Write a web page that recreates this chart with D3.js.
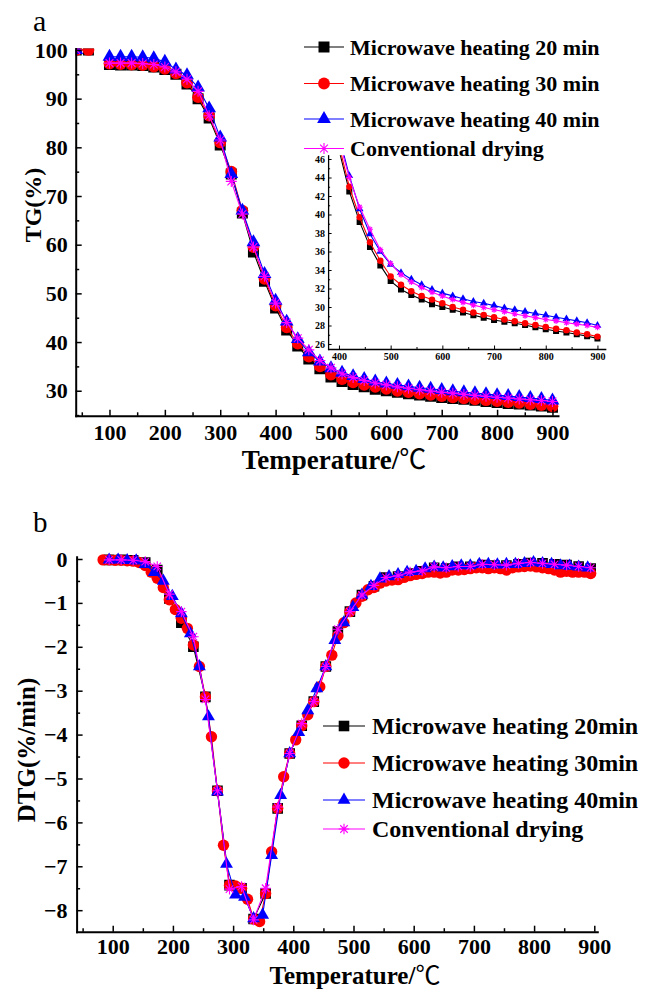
<!DOCTYPE html>
<html>
<head>
<meta charset="utf-8">
<script src="https://cdn.jsdelivr.net/npm/d3@7"></script>
<style>
body { margin: 0; background: #fff; }
</style>
</head>
<body>
<div id="chart"></div>
<script>
// ---- panel a : TG curves (residual mass, %) ----
const tgTemp = [40, 62, 80, 100, 120, 140, 160, 180, 200, 220, 240, 260, 280, 300, 320, 340, 360, 380, 400,
  420, 440, 460, 480, 500, 520, 540, 560, 580, 600, 620, 640, 660, 680, 700, 720, 740, 760, 780, 800,
  820, 840, 860, 880, 900];
const tg20 = [100, 100, null, 97.0, 96.9, 96.9, 96.8, 96.5, 96.0, 95.0, 93.0, 90.0, 86.0, 80.5, 74.5, 66.5, 58.5,
  52.5, 47.0, 42.5, 39.2, 36.5, 34.5, 32.8, 31.9, 31.3, 30.8, 30.3, 30.0, 29.7, 29.4, 29.1, 28.85, 28.6, 28.4,
  28.25, 28.05, 27.8, 27.6, 27.4, 27.25, 27.05, 26.85, 26.6];
const tg30 = [100, 100, null, 97.2, 97.1, 97.0, 96.9, 96.6, 96.1, 95.2, 93.3, 90.3, 86.5, 81.0, 75.0, 67.0, 59.5,
  53.0, 47.5, 43.0, 39.7, 37.0, 35.0, 33.3, 32.4, 31.7, 31.2, 30.8, 30.4, 30.0, 29.7, 29.4, 29.15, 28.9, 28.65,
  28.45, 28.25, 28.05, 27.85, 27.65, 27.5, 27.25, 27.05, 26.8];
const tg40 = [100, null, null, 98.6, 98.6, 98.6, 98.5, 98.3, 97.6, 96.0, 94.8, 92.3, 88.0, 82.0, 74.5, 67.0, 60.5,
  54.0, 48.5, 44.2, 40.6, 37.9, 36.0, 34.6, 33.7, 33.0, 32.4, 31.9, 31.5, 31.2, 30.9, 30.6, 30.4, 30.15, 29.9,
  29.7, 29.5, 29.3, 29.1, 28.9, 28.7, 28.5, 28.3, 28.0];
const tgConv = [100, null, null, 97.3, 97.3, 97.3, 97.2, 97.0, 96.5, 95.5, 94.0, 91.5, 86.5, 81.5, 73.0, 66.3, 59.5,
  53.5, 48.0, 44.0, 40.8, 38.4, 36.2, 34.7, 33.5, 32.7, 32.1, 31.6, 31.2, 30.8, 30.5, 30.2, 29.95, 29.7, 29.5,
  29.25, 29.05, 28.85, 28.65, 28.5, 28.3, 28.15, 28.0, 27.8];

// ---- panel b : DTG curves (%/min) ----
const dtgTemp20 = [94, 114, 134, 154, 174, 194, 214, 234, 254, 274, 294, 314, 334, 354, 374, 394, 414, 434, 454,
  474, 494, 514, 534, 554, 574, 594, 614, 634, 654, 674, 694, 714, 734, 754, 774, 794, 814, 834, 854, 874, 894];
const dtg20 = [-0.02, -0.02, -0.03, -0.08, -0.25, -0.9, -1.45, -2.0, -3.14, -5.28, -7.43, -7.5, -8.2, -7.62, -5.68,
  -4.43, -3.8, -3.25, -2.45, -1.65, -1.2, -0.82, -0.62, -0.42, -0.4, -0.33, -0.28, -0.2, -0.22, -0.18, -0.18,
  -0.14, -0.15, -0.15, -0.12, -0.09, -0.1, -0.12, -0.14, -0.17, -0.22];
const dtgTemp30 = [84, 94, 104, 114, 124, 134, 144, 154, 164, 174, 184, 194, 204, 214, 224, 234, 244, 254, 264, 274,
  284, 294, 304, 314, 324, 334, 344, 354, 364, 374, 384, 394, 404, 414, 424, 434, 444, 454, 464, 474,
  484, 494, 504, 514, 524, 534, 544, 554, 564, 574, 584, 594, 604, 614, 624, 634, 644, 654, 664, 674,
  684, 694, 704, 714, 724, 734, 744, 754, 764, 774, 784, 794, 804, 814, 824, 834, 844, 854, 864, 874, 884, 894];
const dtg30 = [-0.02, -0.02, -0.03, -0.03, -0.04, -0.05, -0.08, -0.15, -0.3, -0.44,
  -0.65, -0.93, -1.15, -1.35, -1.58, -1.96, -2.45, -3.14, -4.05, -5.28,
  -6.52, -7.43, -7.45, -7.5, -7.75, -8.2, -8.26, -7.62, -6.67, -5.68,
  -4.96, -4.43, -4.12, -3.8, -3.55, -3.25, -2.91, -2.45, -2.19, -1.75,
  -1.45, -1.2, -1.0, -0.85, -0.7, -0.65, -0.55, -0.5, -0.48, -0.47,
  -0.42, -0.38, -0.35, -0.33, -0.3, -0.3, -0.32, -0.3, -0.25, -0.25,
  -0.24, -0.22, -0.2, -0.2, -0.22, -0.2, -0.22, -0.25, -0.2, -0.18,
  -0.17, -0.16, -0.18, -0.2, -0.22, -0.25, -0.3, -0.28, -0.3, -0.3, -0.3, -0.33];
const dtgTemp40 = [94, 109, 124, 139, 154, 169, 184, 199, 214, 229, 244, 259, 274, 289, 304, 319, 334, 349, 364, 379,
  394, 409, 424, 439, 454, 469, 484, 499, 514, 529, 544, 559, 574, 589, 604, 619, 634, 649, 664, 679,
  694, 709, 724, 739, 754, 769, 784, 799, 814, 829, 844, 859, 874, 889];
const dtg40 = [-0.02, -0.02, -0.03, -0.04, -0.12, -0.3, -0.5, -0.85, -1.24, -1.7,
  -2.45, -3.59, -5.3, -6.95, -7.65, -7.7, -8.19, -8.11, -6.75, -5.38,
  -4.43, -3.95, -3.45, -2.95, -2.45, -1.85, -1.45, -1.1, -0.82, -0.62,
  -0.45, -0.4, -0.35, -0.3, -0.28, -0.22, -0.18, -0.2, -0.17, -0.15,
  -0.15, -0.12, -0.12, -0.13, -0.12, -0.12, -0.1, -0.08, -0.1, -0.12,
  -0.15, -0.16, -0.18, -0.2];
const dtgConv = [-0.02, -0.02, -0.03, -0.06, -0.17, -0.8, -1.2, -1.77, -3.2, -5.28,
  -7.52, -7.46, -8.22, -7.5, -5.65, -4.43, -3.75, -3.25, -2.45, -1.6,
  -1.2, -0.82, -0.6, -0.42, -0.38, -0.3, -0.27, -0.18, -0.2, -0.17,
  -0.17, -0.12, -0.13, -0.14, -0.1, -0.08, -0.1, -0.12, -0.14, -0.17, -0.2];

// ticks
const tempTicks = [100, 200, 300, 400, 500, 600, 700, 800, 900];
const tempMinor = [50, 150, 250, 350, 450, 550, 650, 750, 850];
const tgTicks = [30, 40, 50, 60, 70, 80, 90, 100];
const tgMinor = [25, 35, 45, 55, 65, 75, 85, 95];
const dtgTicks = [0, -1, -2, -3, -4, -5, -6, -7, -8];
const dtgMinor = [-0.5, -1.5, -2.5, -3.5, -4.5, -5.5, -6.5, -7.5];
const insetXTicks = [400, 500, 600, 700, 800, 900];
const insetXMinor = [450, 550, 650, 750, 850];
const insetYTicks = [26, 28, 30, 32, 34, 36, 38, 40, 42, 44, 46];
const insetYMinor = [27, 29, 31, 33, 35, 37, 39, 41, 43, 45];

const labelsA = ['Microwave heating 20 min', 'Microwave heating 30 min', 'Microwave heating 40 min', 'Conventional drying'];
const labelsB = ['Microwave heating 20min', 'Microwave heating 30min', 'Microwave heating 40min', 'Conventional drying'];
const colors = ['#000000', '#ff0000', '#0000ff', '#ff00ff'];
const shapes = ['square', 'circle', 'triangle', 'star'];

const FONT = '"Liberation Serif","Times New Roman",serif';
const svg = d3.select('#chart').append('svg')
  .attr('width', 646).attr('height', 990)
  .style('font-family', FONT);

// marker drawing
function marker(g, shape, color, s) {
  if (shape === 'star') {
    const a = s * 0.707;
    g.append('path')
      .attr('d', `M${-s},0L${s},0M0,${-s}L0,${s}M${-a},${-a}L${a},${a}M${-a},${a}L${a},${-a}`)
      .attr('stroke', color).attr('stroke-width', 1.1).attr('fill', 'none');
    return;
  }
  let type = d3.symbolSquare, size = s * s * 4;
  if (shape === 'circle') { type = d3.symbolCircle; size = Math.PI * s * s * 1.15; }
  if (shape === 'triangle') { type = d3.symbolTriangle; size = (2.3 * s) * (2.3 * s) * 0.433; }
  g.append('path').attr('d', d3.symbol().type(type).size(size)()).attr('fill', color);
}

function drawSeries(g, x, y, temps, vals, color, shape, s) {
  const pts = temps.map((t, i) => [t, vals[i]]);
  g.append('path').datum(pts)
    .attr('d', d3.line().defined(d => d[1] != null).x(d => x(d[0])).y(d => y(d[1])))
    .attr('fill', 'none').attr('stroke', color).attr('stroke-width', 1.1);
  pts.filter(d => d[1] != null).forEach(d => {
    const m = g.append('g').attr('transform', `translate(${x(d[0])},${y(d[1])})`);
    marker(m, shape, color, s);
  });
}

function drawAxes(g, x, y, o) {
  const y0 = y.range()[0], x0 = x.range()[0];
  const style = sel => {
    sel.selectAll('text').attr('font-family', FONT).attr('font-weight', 'bold')
      .attr('font-size', o.font).attr('fill', '#000');
    sel.selectAll('line').attr('stroke', '#000').attr('stroke-width', o.tw);
    sel.attr('font-family', null).attr('font-size', null);
  };
  const bx = g.append('g').attr('transform', `translate(0,${y0})`);
  bx.call(d3.axisBottom(x).tickValues(o.xMinor).tickSize(-o.minor).tickFormat(''))
    .call(s => s.select('.domain').remove()).call(style);
  bx.append('g').call(d3.axisBottom(x).tickValues(o.xTicks).tickSize(-o.major).tickSizeOuter(0)
    .tickPadding(o.xPad).tickFormat(d3.format('d'))).call(style)
    .select('.domain').attr('stroke', '#000').attr('stroke-width', o.lw).attr('stroke-linecap', 'square');
  const ly = g.append('g').attr('transform', `translate(${x0},0)`);
  ly.call(d3.axisLeft(y).tickValues(o.yMinor).tickSize(-o.minor).tickFormat(''))
    .call(s => s.select('.domain').remove()).call(style);
  ly.append('g').call(d3.axisLeft(y).tickValues(o.yTicks).tickSize(-o.major).tickSizeOuter(0)
    .tickPadding(o.yPad).tickFormat(d3.format('d'))).call(style)
    .select('.domain').attr('stroke', '#000').attr('stroke-width', o.lw).attr('stroke-linecap', 'square');
}

function clip(id, x0, y0, w, h) {
  svg.append('clipPath').attr('id', id).append('rect')
    .attr('x', x0).attr('y', y0).attr('width', w).attr('height', h);
}

// ================= panel a =================
const xA = d3.scaleLinear().domain([39, 910]).range([75.7, 558]);
const yA = d3.scaleLinear().domain([24.85, 100.3]).range([415.8, 48.5]);
clip('clipA', 75.7, 48.5, 490, 367.3);
const gA = svg.append('g');
const plotA = gA.append('g').attr('clip-path', 'url(#clipA)');
const tgSets = [tg20, tg30, tg40, tgConv];
tgSets.forEach((vals, i) => drawSeries(plotA, xA, yA, tgTemp, vals, colors[i], shapes[i], i === 2 ? 6 : 5.5));
drawAxes(gA, xA, yA, { xTicks: tempTicks, xMinor: tempMinor, yTicks: tgTicks, yMinor: tgMinor,
  major: 6, minor: 3.5, font: 22, xPad: 9, yPad: 8, lw: 2, tw: 1.5 });

svg.append('text').attr('x', 33).attr('y', 31).attr('font-size', 30).text('a');
svg.append('text').attr('transform', 'translate(41,205) rotate(-90)').attr('text-anchor', 'middle')
  .attr('font-size', 24).attr('font-weight', 'bold').text('TG(%)');
const tA = svg.append('text').attr('x', 334).attr('y', 469).attr('text-anchor', 'middle')
  .attr('font-size', 27).attr('font-weight', 'bold').text('Temperature/');
tA.append('tspan').attr('font-family', '"Noto Sans CJK SC"').attr('font-weight', 'normal').text('℃');

// legend a
const legA = [47, 83.5, 119, 148.5];
labelsA.forEach((lab, i) => {
  const g = svg.append('g').attr('transform', `translate(324,${legA[i]})`);
  g.append('line').attr('x1', -20).attr('x2', 20).attr('stroke', colors[i]).attr('stroke-width', 1.2);
  marker(g, shapes[i], colors[i], i === 2 ? 6 : 5.5);
  g.append('text').attr('x', 26).attr('y', 7.5).attr('font-size', 22).attr('font-weight', 'bold').text(lab);
});

// inset
const xI = d3.scaleLinear().domain([379, 915]).range([328.1, 605.2]);
const yI = d3.scaleLinear().domain([25.46, 46.4]).range([349, 155.3]);
clip('clipI', 328.1, 155.3, 277.1, 193.7);
const gI = svg.append('g');
const plotI = gI.append('g').attr('clip-path', 'url(#clipI)');
tgSets.forEach((vals, i) => drawSeries(plotI, xI, yI, tgTemp, vals, colors[i], shapes[i], i === 2 ? 3.4 : 3));
drawAxes(gI, xI, yI, { xTicks: insetXTicks, xMinor: insetXMinor, yTicks: insetYTicks, yMinor: insetYMinor,
  major: 3.5, minor: 2, font: 10, xPad: 4, yPad: 3, lw: 1.3, tw: 1 });

// ================= panel b =================
const xB = d3.scaleLinear().domain([40, 905]).range([76.6, 597.3]);
const yB = d3.scaleLinear().domain([-8.49, 0.05]).range([931.7, 556.8]);
clip('clipB', 76.6, 545, 540, 386.7);
const gB = svg.append('g');
const plotB = gB.append('g').attr('clip-path', 'url(#clipB)');
const dtgTemps = [dtgTemp20, dtgTemp30, dtgTemp40, dtgTemp20];
const dtgSets = [dtg20, dtg30, dtg40, dtgConv];
dtgSets.forEach((vals, i) => drawSeries(plotB, xB, yB, dtgTemps[i], vals, colors[i], shapes[i], i === 2 ? 5.6 : 5.3));
drawAxes(gB, xB, yB, { xTicks: tempTicks, xMinor: tempMinor, yTicks: dtgTicks, yMinor: dtgMinor,
  major: 6, minor: 3.5, font: 22, xPad: 7, yPad: 9, lw: 2, tw: 1.5 });

svg.append('text').attr('x', 33).attr('y', 532).attr('font-size', 29).text('b');
svg.append('text').attr('transform', 'translate(35,750) rotate(-90)').attr('text-anchor', 'middle')
  .attr('font-size', 25).attr('font-weight', 'bold').text('DTG(%/min)');
const tB = svg.append('text').attr('x', 355).attr('y', 984).attr('text-anchor', 'middle')
  .attr('font-size', 25).attr('font-weight', 'bold').text('Temperature/');
tB.append('tspan').attr('font-family', '"Noto Sans CJK SC"').attr('font-weight', 'normal').text('℃');

// legend b
const legB = [726, 763, 800, 829];
labelsB.forEach((lab, i) => {
  const g = svg.append('g').attr('transform', `translate(344,${legB[i]})`);
  g.append('line').attr('x1', -21).attr('x2', 21).attr('stroke', colors[i]).attr('stroke-width', 1.2);
  marker(g, shapes[i], colors[i], i === 2 ? 5.6 : 5.3);
  g.append('text').attr('x', 28).attr('y', 8).attr('font-size', 24).attr('font-weight', 'bold').text(lab);
});
</script>
</body>
</html>
